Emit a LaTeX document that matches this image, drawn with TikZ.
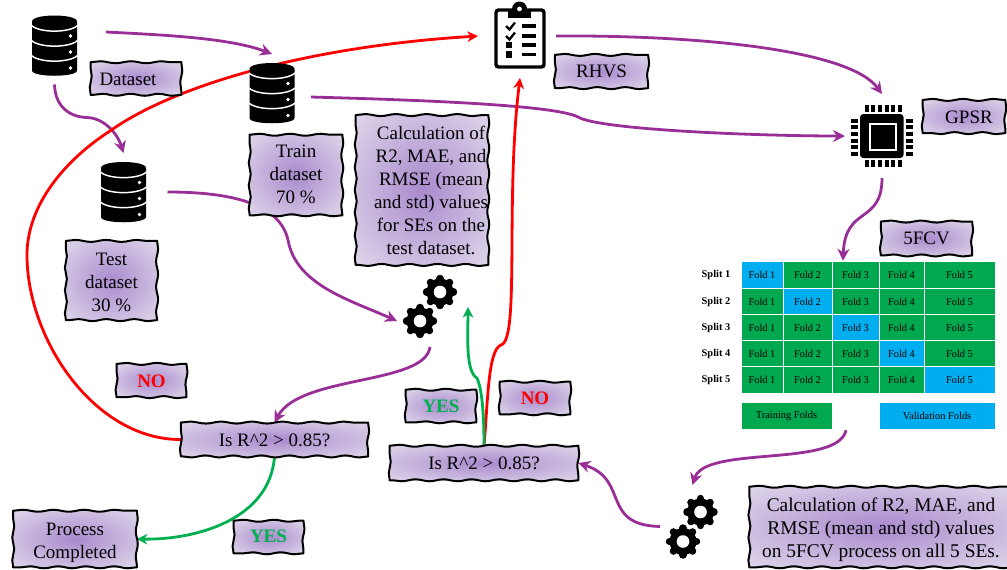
\documentclass[tikz,border=0pt]{standalone}
\usepackage{fontspec}
\setmainfont{Liberation Serif}
\usetikzlibrary{arrows.meta,backgrounds,decorations.pathmorphing}
\pgfdeclarelayer{edges}
\pgfsetlayers{background,main,edges}
\definecolor{linkpurple}{HTML}{982E96}
\definecolor{linkred}{HTML}{FF0000}
\definecolor{linkgreen}{HTML}{00B050}
\definecolor{foldgreen}{HTML}{00A850}
\definecolor{foldblue}{HTML}{00AEEF}
\definecolor{boxmid}{HTML}{A98ACD}
\definecolor{boxedge}{HTML}{E2DBEC}
\pgfdeclareradialshading{boxglow}{\pgfpointorigin}{color(0bp)=(boxmid); color(38bp)=(boxedge); color(50bp)=(boxedge)}
% sideways push, then drop, of a block of centred lines
\newcommand{\pushlines}[3]{\hspace*{#1}\raisebox{-#2}[\height][\depth]{\begin{tabular}{@{}c@{}}#3\end{tabular}}}
\tikzset{
  wavyside/.style={draw=black, line width=1.5pt, line cap=round,
    decorate, decoration={snake, segment length=#1, amplitude=0.75pt}},
  roughbox/.style={inner sep=0pt, align=center,
    font=\fontsize{14.25}{17.25}\selectfont,
    shading=boxglow,
    append after command={\pgfextra{
      \begin{pgfonlayer}{edges}
      \draw[wavyside=23pt] (\tikzlastnode.north west) -- (\tikzlastnode.north east);
      \draw[wavyside=19pt] (\tikzlastnode.north east) -- (\tikzlastnode.south east);
      \draw[wavyside=21pt] (\tikzlastnode.south east) -- (\tikzlastnode.south west);
      \draw[wavyside=17pt] (\tikzlastnode.south west) -- (\tikzlastnode.north west);
      \end{pgfonlayer}
    }}},
  iconspot/.style={inner sep=0pt, outer sep=0pt},
  purplelink/.style={draw=linkpurple, line width=2.1pt, -{Stealth[length=9pt,width=9pt]}},
  redlink/.style={draw=linkred, line width=2.1pt, -{Stealth[length=8pt,width=8pt]}},
  greenlink/.style={draw=linkgreen, line width=2.1pt, -{Stealth[length=8pt,width=8pt]}},
  foldcell/.style={draw=white, line width=0.5pt, inner sep=0pt, outer sep=0pt,
    minimum height=19.8pt, font=\fontsize{7.8}{9}\selectfont},
  splitlabel/.style={font=\fontsize{7.8}{9}\selectfont\bfseries},
  pics/dbicon/.style={code={
    \fill[black] (-22.5,-24) .. controls (-22.5,-32) and (22.5,-32) .. (22.5,-24)
      -- (22.5,25) .. controls (22.5,32) and (-22.5,32) .. (-22.5,25) -- cycle;
    \foreach \yy in {-20,-5,10}{
      \draw[white, line width=1.1pt] (-23,\yy) .. controls (-15,\yy+7.5) and (15,\yy+7.5) .. (23,\yy);
    }
    \foreach \yy in {-9.5,6.5,22.5}{
      \fill[white] (16,\yy) circle (1.8);
    }
  }},
  pics/gearicon/.style={code={
    \foreach \aa in {0,45,...,315}{
      \draw[black, line width=5.6pt, line cap=round] (0,0) -- (\aa:13.5);
    }
    \fill[black] (0,0) circle (13.5);
    \fill[white] (0,0) circle (6.3);
  }},
  pics/cliplist/.style={code={
    \draw[black, line width=2.6pt, rounded corners=2pt, fill=white] (-24,-26) rectangle (24,31);
    \fill[black] (-12,-18) rectangle (11,-26);
    \fill[black] (-0.5,-27) circle (7.5);
    \fill[white] (-0.5,-27) circle (2.4);
    \foreach \yy in {-10,0}{
      \draw[black, line width=1.7pt] (-14,\yy) -- (-10.5,\yy+3.5) -- (-5,\yy-3.5);
      \draw[black, line width=2.5pt] (2,\yy) -- (16,\yy);
    }
    \foreach \yy in {9,18.5}{
      \fill[black] (-14,\yy-3.3) rectangle (-8,\yy+3.3);
      \draw[black, line width=2.5pt] (2,\yy) -- (16,\yy);
    }
  }},
  pics/chipicon/.style={code={
    \fill[black, rounded corners=2.5pt] (-22,-22) rectangle (21.5,22);
    \draw[white, line width=2pt] (-12,-12) rectangle (14,14);
    \foreach \pp in {-15.5,-8.8,-2.1,4.6,11.3,18}{
      \fill[black] (\pp-2,-31) rectangle (\pp+2,-24);
      \fill[black] (\pp-2,24) rectangle (\pp+2,31);
      \fill[black] (-31,\pp-2) rectangle (-24,\pp+2);
      \fill[black] (24,\pp-2) rectangle (31,\pp+2);
    }
  }},
}
\begin{document}
\begin{tikzpicture}[x=0.75pt, y=-0.75pt]
    \useasboundingbox (0,0) rectangle (1007,569);

    % icons
    \node[iconspot, minimum width=66pt, minimum height=58.5pt] (dbfull) at (54.5,45.5) {};
    \node[iconspot, minimum width=66pt, minimum height=58.5pt] (dbtrain) at (272,93) {};
    \node[iconspot, minimum width=66pt, minimum height=58.5pt] (dbtest) at (123.5,192) {};
    \node[iconspot, minimum width=63pt, minimum height=63pt] (rhvslist) at (520,36) {};
    \node[iconspot, minimum width=55.5pt, minimum height=63pt] (gpsrchip) at (882,136) {};
    \node[iconspot, minimum width=34.5pt, minimum height=39pt] (gearsA) at (440,292) {};
    \node[iconspot, minimum width=34.5pt, minimum height=39pt] (gearsB) at (420,321) {};
    \node[iconspot, minimum width=34.5pt, minimum height=40.5pt] (gearsC) at (700.5,512) {};
    \node[iconspot, minimum width=34.5pt, minimum height=39pt] (gearsD) at (683,541.5) {};
    \pic at (dbfull) {dbicon};
    \pic at (dbtrain) {dbicon};
    \pic at (dbtest) {dbicon};
    \pic at (rhvslist) {cliplist};
    \pic at (gpsrchip) {chipicon};
    \pic at (gearsA) {gearicon};
    \pic at (gearsB) {gearicon};
    \pic at (gearsC) {gearicon};
    \pic at (gearsD) {gearicon};

    % text boxes
    \node[roughbox, minimum width=67.5pt, minimum height=24pt] (datasetbox) at (136,78.5) {\pushlines{-12pt}{1.5pt}{Dataset}};
    \node[roughbox, minimum width=69pt, minimum height=60pt] (trainbox) at (296,175) {\pushlines{0pt}{0.75pt}{Train\\dataset\\70 \%}};
    \node[roughbox, minimum width=68pt, minimum height=59pt] (testbox) at (111.5,280.5) {\pushlines{0pt}{2.25pt}{Test\\dataset\\30 \%}};
    \node[roughbox, minimum width=99pt, minimum height=112pt] (calcbox) at (422,190) {\pushlines{13.5pt}{1.5pt}{Calculation of\\R2, MAE, and\\RMSE (mean\\and std) values\\for SEs on the\\test dataset.}};
    \node[roughbox, minimum width=69.5pt, minimum height=24.5pt] (rhvsbox) at (601.5,71.5) {\pushlines{0pt}{0.75pt}{RHVS}};
    \node[roughbox, minimum width=61.5pt, minimum height=24.5pt] (gpsrbox) at (964,116.5) {\pushlines{7.5pt}{1.5pt}{GPSR}};
    \node[roughbox, minimum width=68pt, minimum height=25pt] (fcvbox) at (926.5,238.5) {5FCV};
    \node[roughbox, minimum width=52pt, minimum height=24.5pt] (nobox) at (151.5,380.5) {\pushlines{0pt}{1.5pt}{\bfseries\color{linkred}NO}};
    \node[roughbox, minimum width=52.5pt, minimum height=24pt] (yesboxB) at (441,406) {\pushlines{0pt}{1.5pt}{\bfseries\color{linkgreen}YES}};
    \node[roughbox, minimum width=52.5pt, minimum height=24pt] (noboxB) at (535,398) {\bfseries\color{linkred}NO};
    \node[roughbox, minimum width=52pt, minimum height=24pt] (yesbox) at (268.5,537) {\pushlines{0pt}{0.75pt}{\bfseries\color{linkgreen}YES}};
    \node[roughbox, minimum width=140pt, minimum height=25pt] (checkA) at (274.5,439.5) {\pushlines{0pt}{1.5pt}{Is R\textasciicircum 2 > 0.85?}};
    \node[roughbox, minimum width=141pt, minimum height=25.5pt] (checkB) at (484,463) {\pushlines{0pt}{1.5pt}{Is R\textasciicircum 2 > 0.85?}};
    \node[roughbox, minimum width=92.25pt, minimum height=42pt] (donebox) at (75,539) {\pushlines{0pt}{2.25pt}{Process\\Completed}};
    \node[roughbox, minimum width=197pt, minimum height=60pt, font=\fontsize{14.55}{17.25}\selectfont] (resultbox) at (881,527) {\pushlines{0pt}{2.25pt}{Calculation of R2, MAE, and\\RMSE (mean and std) values\\on 5FCV process on all 5 SEs.}};

    % folds table
    \foreach \r/\yc in {1/275,2/301.5,3/328,4/354,5/380}{
      \node[splitlabel] (split\r) at (716,\yc) {Split \r};
      \foreach \c/\xc/\wc in {1/762/42,2/807.5/49,3/855.5/47,4/901.5/45,5/959.5/71}{
        \ifnum\r=\c \def\foldcolor{foldblue}\else\def\foldcolor{foldgreen}\fi
        \node[foldcell, fill=\foldcolor, minimum width=\wc*0.75pt] (s\r-\c) at (\xc,\yc) {Fold \c};
      }
    }
    \node[foldcell, fill=foldgreen, minimum width=68.25pt] (trainfolds) at (786.5,416) {Training Folds};
    \node[foldcell, fill=foldblue, minimum width=87pt] (validfolds) at (937,416) {Validation Folds};

    \coordinate (greenend) at (468,307);

    % connectors, behind the boxes
    \begin{scope}[on background layer]
      \draw[purplelink] ([shift={(51.5,-13.5)}]dbfull.center) .. controls (165,35) and (230,38) .. (dbtrain.north);
      \draw[purplelink] (dbfull.south) .. controls (55,105) and (68,117) .. (87,117.5) .. controls (105,118) and (118,135) .. (dbtest.north);
      \draw[purplelink] (dbtest.east) .. controls (235,192) and (280,205) .. (288,240) .. controls (296,285) and (350,300) .. (gearsB.west);
      \draw[purplelink] ([shift={(10,0)}]gearsB.south) .. controls (425,385) and (300,375) .. (checkA.north);
      \draw[purplelink] ([shift={(-5,4)}]dbtrain.east) .. controls (420,100) and (555,105) .. (578,117) .. controls (600,130) and (760,136) .. (gpsrchip.west);
      \draw[purplelink] ([shift={(-6,0)}]rhvslist.east) .. controls (700,35) and (850,50) .. (gpsrchip.north);
      \draw[purplelink] (gpsrchip.south) .. controls (882,225) and (845,205) .. ([shift={(11,-1)}]s1-3.north west);
      \draw[purplelink] ([shift={(14,1)}]trainfolds.south east) .. controls (838,468) and (705,445) .. ([shift={(-8,0)}]gearsC.north);
      \draw[purplelink] ([shift={(0,-15)}]gearsD.west) .. controls (600,525) and (630,480) .. (checkB.east);
      \draw[redlink] (checkA.west) .. controls (95,440) and (27,340) .. (27,255) .. controls (27,205) and (65,160) .. (110,131) .. controls (170,88) and (300,47) .. (rhvslist.west);
      \draw[redlink] (checkB.north) .. controls (488,400) and (488,350) .. (501,345) .. controls (520,340) and (505,200) .. (rhvslist.south);
      \draw[greenlink] (checkB.north) .. controls (484,400) and (480,385) .. (477,378) .. controls (465,372) and (468,330) .. (greenend);
      \draw[greenlink] (checkA.south) .. controls (270,520) and (195,540) .. (donebox.east);
    \end{scope}
\end{tikzpicture}
\end{document}
